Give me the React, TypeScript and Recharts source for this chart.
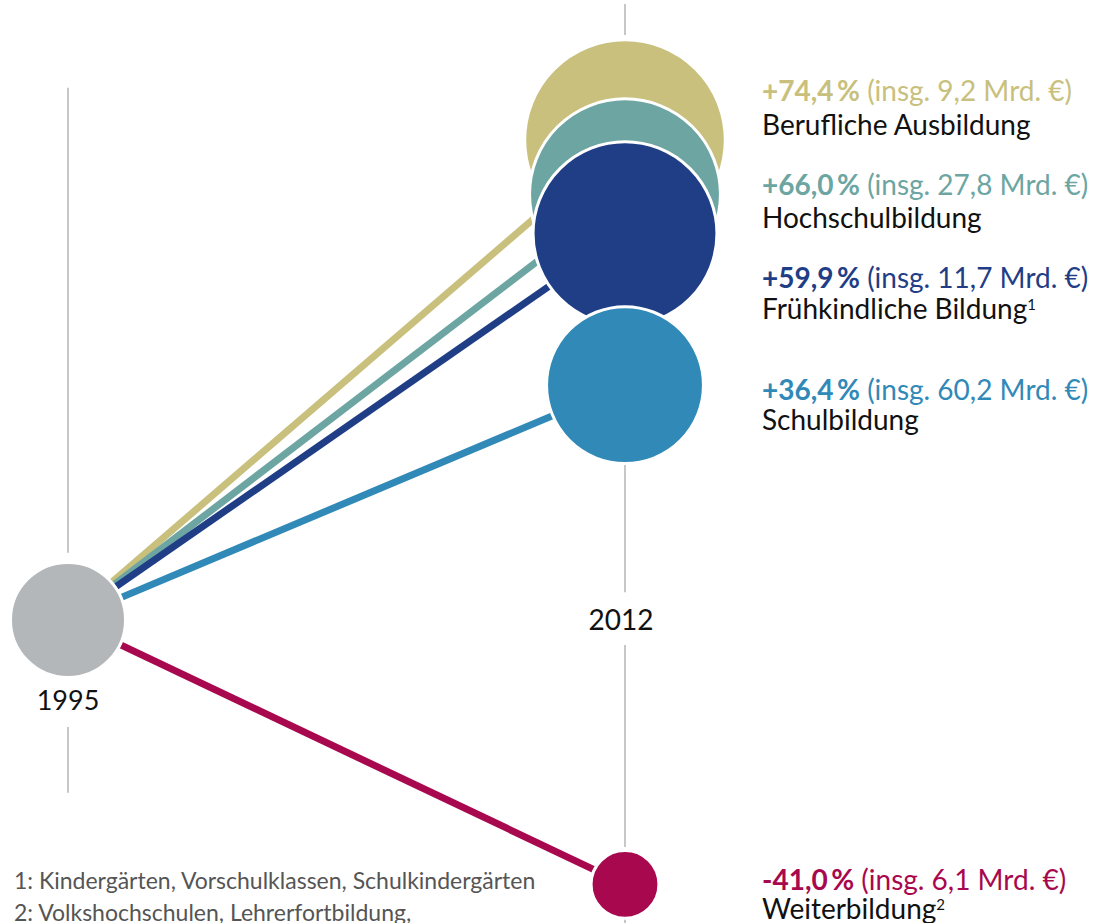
import React from 'react';
import { ComposedChart, Line, Scatter, XAxis, YAxis, ReferenceLine, ReferenceDot } from 'recharts';

// Bildungsausgaben: Veränderung 1995 -> 2012
const categories = ['Berufliche Ausbildung', 'Hochschulbildung', 'Frühkindliche Bildung', 'Schulbildung', 'Weiterbildung'];
const changePct = [74.4, 66.0, 59.9, 36.4, -41.0];
const totalsBn = [9.2, 27.8, 11.7, 60.2, 6.1];
const noteMarks = ['', '', '1', '', '2'];
const years = [1995, 2012];
const footnotes = [
  '1: Kindergärten, Vorschulklassen, Schulkindergärten',
  '2: Volkshochschulen, Lehrerfortbildung,',
];

const COLORS = ['#c8c07c', '#6ca5a1', '#1f3e86', '#3189b8', '#a8094e'];
const BASE_COLOR = '#b4b7ba';
const GUIDE = '#c5c8cb';
const FONT = 'Lato, "Noto Sans", sans-serif';
const R0 = 57.5; // radius of the 1995 circle (index 100)

// label offsets from circle centre: [first line baseline, second line baseline]
const LABEL_DY: [number, number][] = [[-39, -5], [1, 34], [54, 85], [15, 45], [6, 35]];

// gaps in the vertical guides, in % units
const GUIDES_1995: [number, number][] = [[82.5, 10.4], [-16.6, -26.8]];
const GUIDES_2012: [number, number][] = [[95.5, 90.7], [24.0, 4.3], [-3.9, -35.2], [-45.3, -47]];

const W = 1093;
const H = 923;

const fmtPct = (v: number) => (v > 0 ? '+' : '') + v.toFixed(1).replace('.', ',') + '\u2009%';
const fmtBn = (v: number) => v.toFixed(1).replace('.', ',');

const points = [
  { x: years[0], y: 0, base: true, idx: -1 },
  ...categories.map((c, i) => ({ x: years[1], y: changePct[i], idx: i, base: false })),
];

const lines = categories.map((c, i) => ({
  name: c,
  data: [{ x: years[0], y: 0 }, { x: years[1], y: changePct[i] }],
}));

const Bubble = (props: any) => {
  const { cx, cy, payload } = props;
  if (cx == null || cy == null) return null;
  if (payload.base) {
    return (
      <g>
        <circle cx={cx} cy={cy} r={R0} fill={BASE_COLOR} stroke="#fff" strokeWidth={3} />
        <text x={cx} y={cy + 90} textAnchor="middle" fontSize={27} fill="#111" fontFamily={FONT}>
          {years[0]}
        </text>
      </g>
    );
  }
  const i = payload.idx;
  const r = R0 * (1 + changePct[i] / 100);
  const [d1, d2] = LABEL_DY[i];
  return (
    <g>
      <circle cx={cx} cy={cy} r={r} fill={COLORS[i]} stroke="#fff" strokeWidth={3} />
      <text x={cx + 137} y={cy + d1} fontSize={28} fill={COLORS[i]} fontFamily={FONT}>
        <tspan fontWeight={700}>{fmtPct(changePct[i])}</tspan>
        <tspan> (insg. {fmtBn(totalsBn[i])} Mrd. €)</tspan>
      </text>
      <text x={cx + 137} y={cy + d2} fontSize={28} fill="#111" fontFamily={FONT}>
        <tspan>{categories[i]}</tspan>
        {noteMarks[i] && (
          <tspan fontSize={15} dy={-9}>{noteMarks[i]}</tspan>
        )}
      </text>
    </g>
  );
};

const YearLabel = (p: any) => {
  const vb = p.viewBox || {};
  const x = (vb.x || 0) + (vb.width || 0) / 2;
  const y = (vb.y || 0) + (vb.height || 0) / 2;
  return (
    <text x={x - 4} y={y + 10} textAnchor="middle" fontSize={28} fill="#111" fontFamily={FONT}>
      {years[1]}
    </text>
  );
};

export default function App() {
  return (
    <div style={{ position: 'absolute', left: 0, top: 0, width: W, height: H, background: '#fff', overflow: 'hidden' }}>
      <ComposedChart width={W} height={H} margin={{ top: 0.8, right: W - 625, left: 68, bottom: 0 }}>
        <XAxis type="number" dataKey="x" domain={[1995, 2012]} hide />
        <YAxis type="number" domain={[-47, 96]} hide />
        {GUIDES_1995.map(([a, b], k) => (
          <ReferenceLine key={'g95' + k} segment={[{ x: years[0], y: a }, { x: years[0], y: b }]} stroke={GUIDE} strokeWidth={2} ifOverflow="visible" />
        ))}
        {GUIDES_2012.map(([a, b], k) => (
          <ReferenceLine key={'g12' + k} segment={[{ x: years[1], y: a }, { x: years[1], y: b }]} stroke={GUIDE} strokeWidth={2} ifOverflow="visible" />
        ))}
        {lines.map((l, i) => (
          <Line
            key={l.name}
            data={l.data}
            dataKey="y"
            stroke={COLORS[i]}
            strokeWidth={7}
            dot={false}
            activeDot={false}
            isAnimationActive={false}
          />
        ))}
        <Scatter data={points} dataKey="y" shape={Bubble} isAnimationActive={false} />
        <ReferenceDot
          x={years[1]}
          y={0}
          r={0}
          fill="none"
          stroke="none"
          ifOverflow="visible"
          label={<YearLabel />}
        />
      </ComposedChart>
      <svg width={620} height={80} style={{ position: 'absolute', left: 0, top: H - 80 }}>
        {footnotes.map((t, k) => (
          <text key={k} x={14} y={46 + k * 32} fontSize={23} fill="#555" fontFamily={FONT}>
            {t}
          </text>
        ))}
      </svg>
    </div>
  );
}
